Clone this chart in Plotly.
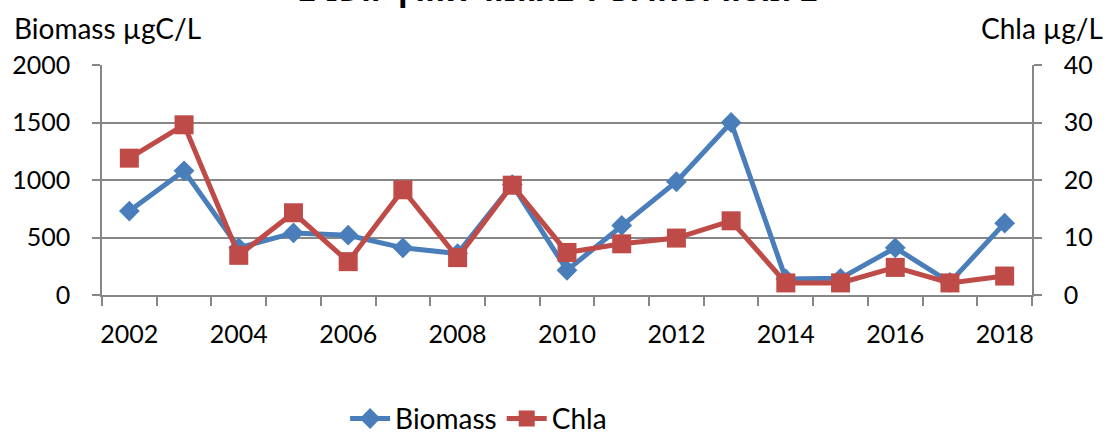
import plotly.graph_objects as go

# Annual series
years = list(range(2002, 2019))
biomass = [730, 1080, 410, 540, 520, 410, 360, 960, 215, 605, 985, 1500, 140, 145, 410, 110, 625]
chla = [23.8, 29.6, 6.9, 14.3, 5.8, 18.3, 6.5, 19.1, 7.4, 8.9, 9.9, 12.9, 2.1, 2.1, 4.8, 2.1, 3.3]

label_years = list(range(2002, 2019, 2))
biomass_ticks = [0, 500, 1000, 1500, 2000]
chla_ticks = [0, 10, 20, 30, 40]

BLUE = "#4A7EBB"
RED = "#BE4B48"
GRID = "#878787"
FONT = "Lato"

fig = go.Figure()
fig.add_trace(go.Scatter(
    x=years, y=biomass, name="Biomass", mode="lines+markers",
    line=dict(color=BLUE, width=5),
    marker=dict(symbol="diamond", size=16, color=BLUE),
    yaxis="y",
))
fig.add_trace(go.Scatter(
    x=years, y=chla, name="Chla", mode="lines+markers",
    line=dict(color=RED, width=5),
    marker=dict(symbol="square", size=19, color=RED),
    yaxis="y2",
))

fig.update_layout(
    width=1113, height=434,
    margin=dict(l=100, r=81, t=65, b=139),
    paper_bgcolor="white", plot_bgcolor="white",
    font=dict(family=FONT, size=25, color="black"),
    showlegend=True,
    legend=dict(
        orientation="h", xref="container", yref="container",
        x=0.43, xanchor="center", y=0.035, yanchor="middle",
        font=dict(size=28), itemwidth=40,
    ),
    xaxis=dict(
        range=[2001.5, 2018.5], tickvals=label_years,
        ticktext=[str(y) for y in label_years],
        ticks="", showgrid=False, zeroline=False,
        showline=True, linecolor=GRID, linewidth=1.5,
        ticklabelstandoff=16,
        minor=dict(ticks="outside", ticklen=9, tick0=2001.5, dtick=1,
                   tickcolor=GRID, tickwidth=1.5, showgrid=False),
    ),
    yaxis=dict(
        range=[0, 2000], tickvals=biomass_ticks,
        showgrid=True, gridcolor=GRID, gridwidth=1.5, zeroline=False,
        showline=True, linecolor=GRID, linewidth=1.5,
        ticks="outside", ticklen=8, tickcolor=GRID, tickwidth=1.5,
        ticklabelstandoff=17,
    ),
    yaxis2=dict(
        range=[0, 40], tickvals=chla_ticks, overlaying="y", side="right",
        showgrid=False, zeroline=False,
        showline=True, linecolor=GRID, linewidth=1.5,
        ticks="outside", ticklen=8, tickcolor=GRID, tickwidth=1.5,
        ticklabelstandoff=17,
    ),
    annotations=[
        dict(text="<b>ביומסה וכלורופיל בתחנה לאורך השנים</b>",
             xref="paper", yref="paper",
             x=0.49, y=1, yanchor="middle", yshift=74, showarrow=False,
             font=dict(family="DejaVu Sans", size=29, color="black")),
        dict(text="Biomass µgC/L", xref="paper", yref="paper",
             x=-0.097, xanchor="left", y=1, yanchor="middle", yshift=37,
             showarrow=False, font=dict(size=28)),
        dict(text="Chla µg/L", xref="paper", yref="paper",
             x=1.078, xanchor="right", y=1, yanchor="middle", yshift=37,
             showarrow=False, font=dict(size=28)),
    ],
)

fig.write_html("out.html")
